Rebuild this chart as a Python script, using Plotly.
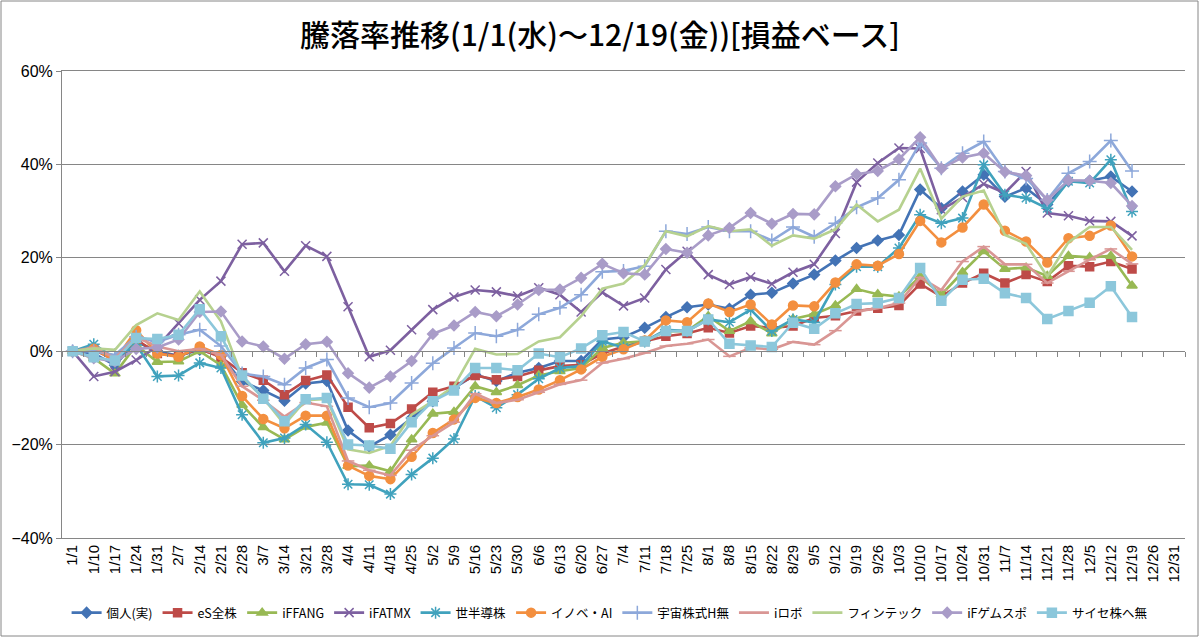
import plotly.graph_objects as go

categories = ["1/1","1/10","1/17","1/24","1/31","2/7","2/14","2/21","2/28","3/7","3/14","3/21","3/28",
              "4/4","4/11","4/18","4/25","5/2","5/9","5/16","5/23","5/30","6/6","6/13","6/20","6/27",
              "7/4","7/11","7/18","7/25","8/1","8/8","8/15","8/22","8/29","9/5","9/12","9/19","9/26",
              "10/3","10/10","10/17","10/24","10/31","11/7","11/14","11/21","11/28","12/5","12/12",
              "12/19","12/26","12/31"]

kojin = [0, -0.5, -3, 2, 0, -1, 0.3, -1,
         -6.5, -8.4, -10.6, -6.9, -6.4, -17, -20.4, -17.9,
         -14.3, -10.7, -7.9, -5, -6.4, -4.6, -3.6, -2.1, -2.1, 2.5,
         3.0, 5.0, 7.3, 9.4, 10, 9.1, 12.1, 12.5, 14.5, 16.4,
         19.4, 22.1, 23.7, 24.9, 34.6, 30.6, 34.2, 37.8, 33.1, 34.9,
         31.4, 36.4, 36.5, 37.4, 34.2]
es_zenkabu = [0, 0.4, -2, 2.5, -0.5, -1, 0.5, -1.3,
              -4.6, -6.2, -9.3, -6.3, -5.1, -12, -16.4, -15.5,
              -12.4, -8.8, -7.5, -5.2, -6.1, -5.4, -4.1, -3.2, -2.9, -0.5,
              1, 2.1, 3.2, 3.8, 5, 3.9, 5.4, 5, 5.4, 7.1,
              7.6, 8.6, 9.2, 9.8, 14.4, 11.7, 14.6, 16.7, 14.6, 16.4,
              14.9, 18.3, 18.1, 19.2, 17.6]
iffang = [0, -1.5, -4.8, 1.3, -2.3, -2.2, 0, -3,
          -11.5, -16.3, -18.9, -16.2, -15.3, -24.6, -24.5, -25.7,
          -18.9, -13.4, -13, -7.5, -8.8, -7.3, -5.2, -4.3, -3.6, 0.7,
          1.8, 2.1, 4.3, 4.3, 7.5, 4.3, 6.4, 3.8, 6.9, 7.9,
          9.8, 13.3, 12.2, 11.7, 16, 12.1, 16.9, 21.4, 17.6, 17.9,
          16.1, 20.4, 20.1, 20.4, 14]
ifatmx = [0, -5.4, -4.4, -1.9, 1, 6, 11, 15,
          22.9, 23.2, 17.1, 22.6, 20.3, 9.5, -1.2, 0.2,
          4.6, 8.9, 11.6, 13.1, 12.7, 11.8, 13.6, 12.1, 8.4, 12.6,
          9.7, 11.4, 17.5, 21.4, 16.4, 14.3, 15.9, 14.4, 16.9, 18.6,
          25.2, 36.2, 40.3, 43.5, 43.4, 30.3, 32.9, 35.8, 33.9, 38.5,
          29.6, 29, 27.9, 27.8, 24.7]
sehan = [0, 1.5, -1.5, 1.4, -5.4, -5.2, -2.5, -3.6,
         -13.6, -19.6, -18.6, -15.7, -19.5, -28.5, -28.6, -30.6,
         -26.4, -22.9, -18.8, -9.6, -12.1, -9.3, -5.9, -3.6, -3.2, 2.1,
         0.8, 2.1, 4.6, 4.3, 6.8, 6.2, 8.9, 4.3, 6.8, 6.2,
         14.3, 18.1, 18.1, 22.1, 29.2, 27.4, 28.5, 39.9, 33.5, 32.8,
         30.6, 36.4, 36, 41, 29.9]
inobe_ai = [0, 0.5, -2, 4.5, -0.5, -1.2, 1, -0.8,
            -9.6, -14.5, -16.5, -13.8, -13.8, -24.5, -26.7, -27.4,
            -22.6, -17.5, -14.6, -10, -11.1, -9.8, -8.2, -6.2, -3.9, -1.2,
            0.4, 2.3, 6.6, 6.2, 10.2, 8.4, 10, 5.7, 9.8, 9.6,
            14.7, 18.6, 18.3, 20.8, 27.9, 23.3, 26.5, 31.4, 25.8, 23.5,
            19, 24.2, 24.7, 26.9, 20.3]
uchu = [0, 0, -0.8, 3.1, 2, 3.5, 4.6, 1.1,
        -4.8, -5.4, -7.2, -3.6, -1.8, -10, -12, -11.1,
        -6.8, -2.6, 0.7, 3.9, 3.2, 4.6, 7.9, 9.3, 12.1, 17,
        17.2, 18.2, 25.7, 25.1, 26.6, 25.7, 25.7, 23.7, 26.6, 24.5,
        27.4, 30.8, 32.8, 36.7, 44.6, 39.2, 42.4, 44.9, 38.5, 37,
        32.4, 38.1, 40.6, 45.1, 38.6]
irobo = [0, 0.8, -1.5, 3, 1, 0, 0.5, -0.8,
         -7.5, -10.5, -14, -11, -11.8, -23.5, -25.5, -26.6,
         -21.2, -18.1, -15.2, -9.1, -11.1, -10.4, -8.8, -7.1, -6.2, -2.5,
         -1.6, -0.4, 1.1, 1.6, 2.5, -1.1, 0.7, 0.4, 2, 1.4,
         4.4, 8.5, 9.2, 10.3, 15.8, 13.1, 19.2, 22.4, 18.6, 18.6,
         14.6, 17.1, 19.6, 21.9, 18.7]
fintech = [0, 0.6, 0.3, 5.6, 8.1, 6.7, 12.8, 6.4,
           -5.5, -10, -15.7, -10.5, -10.2, -21, -21.8, -20.3,
           -13.6, -10.7, -7.5, 0.5, -0.7, -0.6, 2.1, 3, 7.5, 13.4,
           14.5, 18.4, 25.7, 24.6, 26.8, 25.7, 26.1, 22.6, 24.8, 24.1,
           26.1, 31.4, 27.8, 30.3, 39.1, 28.4, 33.1, 34.4, 24.9, 23,
           16, 23.3, 26.6, 26.6, 21.7]
if_gamesports = [0, -1.5, -2.2, 0.5, 0.8, 2.5, 8.4, 8.5,
                 2.1, 1, -1.6, 1.5, 2, -4.7, -7.8, -5.4,
                 -2.1, 3.7, 5.5, 8.4, 7.5, 10, 13.1, 13.2, 15.7, 18.7,
                 16.7, 16.4, 21.9, 21.1, 24.8, 26.4, 29.6, 27.3, 29.4, 29.3,
                 35.3, 37.9, 38.6, 41.1, 45.8, 39.1, 41.5, 42.4, 38.4, 37.6,
                 32.4, 36.6, 36.5, 36, 31.1]
cyber = [0, -1.3, -2, 2.8, 2.6, 3.5, 9, 3.2,
         -5.2, -10.2, -15, -10.3, -10, -20, -20.2, -20.9,
         -15.2, -10.7, -8.4, -3.6, -3.6, -4.1, -0.5, -1.3, 0.6, 3.4,
         4.1, 2.1, 4.3, 4.3, 6.8, 1.6, 1.2, 0.9, 6.1, 4.8,
         8.1, 10.1, 10.3, 11.4, 17.8, 10.8, 15.3, 15.5, 12.4, 11.4,
         6.9, 8.6, 10.4, 13.9, 7.3]

series_names = ["個人(実)", "eS全株", "iFFANG", "iFATMX", "世半導株", "イノベ・AI",
                "宇宙株式H無", "iロボ", "フィンテック", "iFゲムスポ", "サイセ株へ無"]
series_values = [kojin, es_zenkabu, iffang, ifatmx, sehan, inobe_ai,
                 uchu, irobo, fintech, if_gamesports, cyber]

styles = [
    dict(color="#4373B5", symbol="diamond", size=8),
    dict(color="#BE4B48", symbol="square", size=8),
    dict(color="#98B954", symbol="triangle-up", size=9),
    dict(color="#7D60A0", symbol="x-thin-open", size=9),
    dict(color="#40A2BD", symbol="asterisk-open", size=10),
    dict(color="#F38F3F", symbol="circle", size=9),
    dict(color="#8DA8DA", symbol="cross-thin-open", size=10),
    dict(color="#D99694", symbol="line-ew-open", size=9),
    dict(color="#B6D18F", symbol=None, size=0),
    dict(color="#A99CC8", symbol="diamond", size=8),
    dict(color="#8CC7DB", symbol="square", size=9),
]

GRAY = "#868686"
FONT = "Noto Sans CJK JP, Liberation Sans, sans-serif"

fig = go.Figure()
for name, vals, st in zip(series_names, series_values, styles):
    y = list(vals) + [None] * (len(categories) - len(vals))
    if st["symbol"] is None:
        mode = "lines"
        marker = dict()
    else:
        mode = "lines+markers"
        marker = dict(symbol=st["symbol"], size=st["size"], color=st["color"],
                      line=dict(color=st["color"], width=1.5))
    fig.add_trace(go.Scatter(x=categories, y=y, name=name, mode=mode,
                             line=dict(color=st["color"], width=2.6),
                             marker=marker, connectgaps=False))

# helper axis that draws the category axis line with boundary ticks at 0%
fig.add_trace(go.Scatter(x=categories, y=[None] * len(categories), xaxis="x2",
                         mode="lines", showlegend=False, hoverinfo="skip"))

L, R, T, B = 62, 15, 71, 100
W, H = 1200, 638
pw, ph = W - L - R, H - T - B

fig.update_layout(
    width=W, height=H,
    margin=dict(l=L, r=R, t=T, b=B, autoexpand=False),
    paper_bgcolor="white", plot_bgcolor="white",
    font=dict(family=FONT, color="black"),
    title=dict(text="騰落率推移(1/1(水)～12/19(金))[損益ベース]",
               x=0.5, xref="container", xanchor="center",
               y=1 - 35 / H, yref="container", yanchor="middle",
               font=dict(size=30, family=FONT, color="black", weight=500)),
    xaxis=dict(type="category", categoryorder="array", categoryarray=categories,
               range=[-0.5, len(categories) - 0.5], tickangle=-90,
               tickfont=dict(size=15, family="Liberation Sans, sans-serif", color="black"),
               showgrid=False, showline=True, linecolor=GRAY, mirror=True,
               ticks="", automargin=False, zeroline=False),
    xaxis2=dict(type="category", categoryorder="array", categoryarray=categories,
                range=[-0.5, len(categories) - 0.5], overlaying="x", anchor="free",
                position=40 / 100, showline=True, linecolor=GRAY, linewidth=1,
                ticks="outside", tickson="boundaries", ticklen=5, tickcolor=GRAY,
                showticklabels=False, showgrid=False, zeroline=False),
    yaxis=dict(range=[-40, 60], dtick=20, tick0=0, ticksuffix="%",
               showgrid=True, gridcolor=GRAY, gridwidth=1, zeroline=False,
               showline=True, linecolor=GRAY, ticks="outside", ticklen=5, tickcolor=GRAY,
               tickfont=dict(size=16, family="Liberation Sans, sans-serif", color="black"),
               automargin=False),
    legend=dict(orientation="h", x=0.508, xref="container", xanchor="center",
                y=(H - 613) / H, yref="container", yanchor="middle",
                font=dict(size=12.5, family=FONT, color="black"),
                itemwidth=30, tracegroupgap=0, bgcolor="rgba(0,0,0,0)"),
    showlegend=True,
)

# outer chart-area border
fig.add_shape(type="rect", xref="paper", yref="paper",
              x0=(1 - L) / pw, x1=(W - 2 - L) / pw,
              y0=(T + ph - (H - 2)) / ph, y1=(T + ph - 1) / ph,
              line=dict(color=GRAY, width=1), fillcolor="rgba(0,0,0,0)", layer="below")

fig.write_html("out.html", config={"displayModeBar": False},
               post_script="document.body.style.margin='0px';document.body.style.overflow='hidden';")
